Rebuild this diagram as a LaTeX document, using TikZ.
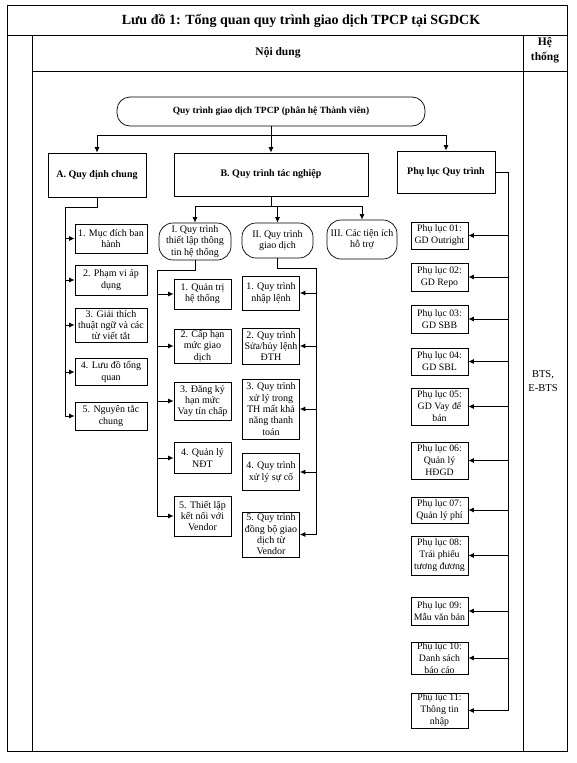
\documentclass[tikz,border=0pt]{standalone}
\usepackage{fontspec}
\setmainfont{Liberation Serif}
\usetikzlibrary{arrows.meta}
\newcommand{\myFrame}{%%
  %% Draw the table round the chart.
  \draw[frameStyle] (7,5) rectangle (567,751);
  \draw[frameStyle] (7,35) -- (567,35);
  \draw[frameStyle] (32,71) -- (567,71);
  \draw[frameStyle] (32,35) -- (32,751);
  \draw[frameStyle] (523,35) -- (523,751);
  %% Texts of the table.
  \node[titleStyle] (title) at (301,21) {Lưu đồ 1: Tổng quan quy trình giao dịch TPCP tại SGDCK};
  \node[headStyle] (content) at (278,53) {Nội dung};
  \node[headStyle] (system) at (545,50) {Hệ\\thống};
  \node[plainStyle] (bts) at (543,381) {BTS,\\E-BTS};
}
\newcommand{\myGeneral}{%%
  %% A. the general rules.
  \node[leftBox,minimum height=29pt] (a1) at (111,238.5) {1. Mục đích ban\\hành};
  \node[leftBox,minimum height=30pt] (a2) at (111,280) {2. Phạm vi áp\\dụng};
  \node[leftBox,minimum height=34pt] (a3) at (111,325) {3. Giải thích\\thuật ngữ và các\\từ viết tắt};
  \node[leftBox,minimum height=27pt] (a4) at (111,372) {4. Lưu đồ tổng\\quan};
  \node[leftBox,minimum height=28pt] (a5) at (111,416) {5. Nguyên tắc\\chung};
  %% Connect A to its items.
  \draw[lineStyle] (A.south) |- (spineA) -- (spineA |- a5.west);
  \draw[arrowStyle] (spineA |- a1.west) -- (a1.west);
  \draw[arrowStyle] (spineA |- a2.west) -- (a2.west);
  \draw[arrowStyle] (spineA |- a3.west) -- (a3.west);
  \draw[arrowStyle] (spineA |- a4.west) -- (a4.west);
  \draw[arrowStyle] (spineA |- a5.west) -- (a5.west);
}
\newcommand{\myOperations}{%%
  %% B. the three groups of processes.
  \node[roundStyle,minimum width=72pt,minimum height=37pt] (I) at (195,241.5) {I. Quy trình\\thiết lập thông\\tin hệ thống};
  \node[roundStyle,minimum width=71pt,minimum height=35pt] (II) at (277.5,240.5) {II. Quy trình\\giao dịch};
  \node[roundStyle,minimum width=70pt,minimum height=39pt] (III) at (362,239.5) {III. Các tiện ích\\hỗ trợ};
  \draw[lineStyle] (B.south) -- (busB);
  \draw[arrowStyle] (busB) -| (I.north);
  \draw[arrowStyle] (busB) -| (II.north);
  \draw[arrowStyle] (busB) -| (III.north);
  %% I
  \node[midBox,minimum height=30pt] (i1) at (202.5,294) {1. Quản trị\\hệ thống};
  \node[midBox,minimum height=34pt] (i2) at (202.5,346) {2. Cấp hạn\\mức giao\\dịch};
  \node[midBox,minimum height=38pt] (i3) at (202.5,401) {3. Đăng ký\\hạn mức\\Vay tín chấp};
  \node[midBox,minimum height=31pt] (i4) at (202.5,458) {4. Quản lý\\NĐT};
  \node[midBox,minimum height=40pt] (i5) at (202.5,516) {5. Thiết lập\\kết nối với\\Vendor};
  \draw[lineStyle] (I.south) |- (spineI) -- (spineI |- i5.west);
  \draw[arrowStyle] (spineI |- i1.west) -- (i1.west);
  \draw[arrowStyle] (spineI |- i2.west) -- (i2.west);
  \draw[arrowStyle] (spineI |- i3.west) -- (i3.west);
  \draw[arrowStyle] (spineI |- i4.west) -- (i4.west);
  \draw[arrowStyle] (spineI |- i5.west) -- (i5.west);
  %% II
  \node[midBox,minimum height=34pt] (b1) at (271,293) {1. Quy trình\\nhập lệnh};
  \node[midBox,minimum height=36pt] (b2) at (271,346) {2. Quy trình\\Sửa/hủy lệnh\\ĐTH};
  \node[midBox,minimum height=60pt] (b3) at (271,409) {3. Quy trình\\xử lý trong\\TH mất khả\\năng thanh\\toán};
  \node[midBox,minimum height=37pt] (b4) at (271,472) {4. Quy trình\\xử lý sự cố};
  \node[midBox,minimum height=45pt] (b5) at (271,534.5) {5. Quy trình\\đồng bộ giao\\dịch từ\\Vendor};
  \draw[lineStyle] (II.south) |- (spineII) -- (spineII |- b5.east);
  \draw[arrowStyle] (spineII |- b1.east) -- (b1.east);
  \draw[arrowStyle] (spineII |- b2.east) -- (b2.east);
  \draw[arrowStyle] (spineII |- b3.east) -- (b3.east);
  \draw[arrowStyle] (spineII |- b4.east) -- (b4.east);
  \draw[arrowStyle] (spineII |- b5.east) -- (b5.east);
}
\newcommand{\myAppendix}{%%
  %% The appendices of the processes.
  \node[appBox,minimum height=27pt] (p1) at (439.5,235.5) {Phụ lục 01:\\GD Outright};
  \node[appBox,minimum height=28pt] (p2) at (439.5,277) {Phụ lục 02:\\GD Repo};
  \node[appBox,minimum height=28pt] (p3) at (439.5,319) {Phụ lục 03:\\GD SBB};
  \node[appBox,minimum height=27pt] (p4) at (439.5,361.5) {Phụ lục 04:\\GD SBL};
  \node[appBox,minimum height=37pt] (p5) at (439.5,406.5) {Phụ lục 05:\\GD Vay để\\bán};
  \node[appBox,minimum height=37pt] (p6) at (439.5,460.5) {Phụ lục 06:\\Quản lý\\HĐGD};
  \node[appBox,minimum height=26pt] (p7) at (439.5,510) {Phụ lục 07:\\Quản lý phí};
  \node[appBox,minimum height=39pt] (p8) at (439.5,555.5) {Phụ lục 08:\\Trái phiếu\\tương đương};
  \node[appBox,minimum height=28pt] (p9) at (439.5,611) {Phụ lục 09:\\Mẫu văn bản};
  \node[appBox,minimum height=32pt] (p10) at (439.5,658) {Phụ lục 10:\\Danh sách\\báo cáo};
  \node[appBox,minimum height=35pt] (p11) at (439.5,710.5) {Phụ lục 11:\\Thông tin\\nhập};
  \draw[lineStyle] (P.east) -- (spineP) -- (spineP |- p11.east);
  \draw[arrowStyle] (spineP |- p1.east) -- (p1.east);
  \draw[arrowStyle] (spineP |- p2.east) -- (p2.east);
  \draw[arrowStyle] (spineP |- p3.east) -- (p3.east);
  \draw[arrowStyle] (spineP |- p4.east) -- (p4.east);
  \draw[arrowStyle] (spineP |- p5.east) -- (p5.east);
  \draw[arrowStyle] (spineP |- p6.east) -- (p6.east);
  \draw[arrowStyle] (spineP |- p7.east) -- (p7.east);
  \draw[arrowStyle] (spineP |- p8.east) -- (p8.east);
  \draw[arrowStyle] (spineP |- p9.east) -- (p9.east);
  \draw[arrowStyle] (spineP |- p10.east) -- (p10.east);
  \draw[arrowStyle] (spineP |- p11.east) -- (p11.east);
}
\begin{document}
\begin{tikzpicture}[x=1pt,y=-1pt,%%
  frameStyle/.style={line width=0.9pt},%%
  lineStyle/.style={-,line width=0.9pt},%%
  arrowStyle/.style={-{Latex[length=5.5pt,width=5pt]},line width=0.9pt},%%
  titleStyle/.style={font=\fontsize{14}{16}\selectfont\bfseries},%%
  headStyle/.style={align=center,font=\fontsize{11.5}{14.5}\selectfont\bfseries},%%
  plainStyle/.style={align=center,font=\fontsize{10.5}{14}\selectfont},%%
  boxStyle/.style={draw,line width=0.7pt,align=center,inner sep=1pt,font=\fontsize{10}{11.3}\selectfont},%%
  bigBox/.style={boxStyle,font=\fontsize{10}{12}\selectfont\bfseries},%%
  topStyle/.style={bigBox,rounded corners=13pt,minimum width=308pt,minimum height=29pt,font=\fontsize{9.5}{12}\selectfont\bfseries},%%
  roundStyle/.style={boxStyle,rounded corners=14pt},%%
  leftBox/.style={boxStyle,minimum width=72pt},%%
  midBox/.style={boxStyle,minimum width=57pt},%%
  appBox/.style={boxStyle,minimum width=57pt,inner sep=0.5pt,font=\fontsize{9.8}{12}\selectfont}
]
\useasboundingbox (0,0) rectangle (576,763);
%%
%% Coordinates of the corners of the connectors.
\coordinate (topBus) at (271,135);
\coordinate (spineA) at (65,207);
\coordinate (busB) at (271,206);
\coordinate (spineI) at (157,270);
\coordinate (spineII) at (316,268);
\coordinate (spineP) at (508,172);
%%
\myFrame
%% The first two levels.
\node[topStyle] (top) at (271,111.5) {Quy trình giao dịch TPCP (phân hệ Thành viên)};
\node[bigBox,minimum width=98pt,minimum height=44pt] (A) at (97,175) {A. Quy định chung};
\node[bigBox,minimum width=194pt,minimum height=43pt] (B) at (271,174.5) {B. Quy trình tác nghiệp};
\node[bigBox,minimum width=98pt,minimum height=42pt] (P) at (446,172) {Phụ lục Quy trình};
\draw[lineStyle] (top.south) -- (topBus);
\draw[arrowStyle] (topBus) -| (A.north);
\draw[arrowStyle] (topBus) -- (B.north);
\draw[arrowStyle] (topBus) -| (P.north);
%%
\myGeneral
\myOperations
\myAppendix
\end{tikzpicture}
\end{document}
